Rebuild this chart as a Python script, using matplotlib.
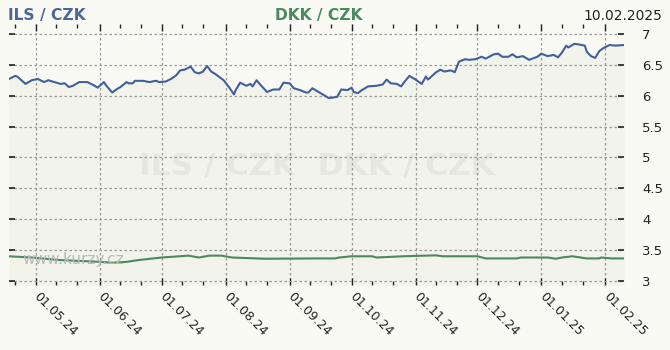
import matplotlib
matplotlib.use("Agg")
import matplotlib.pyplot as plt
import matplotlib.dates as mdates
from matplotlib import font_manager
from matplotlib.ticker import MultipleLocator
import pandas as pd

# ILS / CZK
ils_dates = [
    "2024-04-18", "2024-04-21", "2024-04-22", "2024-04-26", "2024-04-29", "2024-05-02",
    "2024-05-05", "2024-05-07", "2024-05-10", "2024-05-13", "2024-05-15", "2024-05-17",
    "2024-05-19", "2024-05-22", "2024-05-26", "2024-05-29", "2024-05-31", "2024-06-03",
    "2024-06-04", "2024-06-07", "2024-06-09", "2024-06-11", "2024-06-14", "2024-06-15",
    "2024-06-17", "2024-06-18", "2024-06-22", "2024-06-25", "2024-06-28", "2024-06-30",
    "2024-07-03", "2024-07-06", "2024-07-08", "2024-07-10", "2024-07-12", "2024-07-15",
    "2024-07-17", "2024-07-19", "2024-07-21", "2024-07-23", "2024-07-25", "2024-07-27",
    "2024-07-31", "2024-08-03", "2024-08-05", "2024-08-06", "2024-08-08", "2024-08-11",
    "2024-08-13", "2024-08-14", "2024-08-16", "2024-08-18", "2024-08-21", "2024-08-24",
    "2024-08-27", "2024-08-29", "2024-09-01", "2024-09-03", "2024-09-06", "2024-09-09",
    "2024-09-10", "2024-09-12", "2024-09-15", "2024-09-18", "2024-09-20", "2024-09-24",
    "2024-09-26", "2024-09-29", "2024-10-01", "2024-10-02", "2024-10-04", "2024-10-06",
    "2024-10-09", "2024-10-13", "2024-10-16", "2024-10-18", "2024-10-20", "2024-10-23",
    "2024-10-25", "2024-10-27", "2024-10-29", "2024-11-01", "2024-11-04", "2024-11-06",
    "2024-11-07", "2024-11-11", "2024-11-13", "2024-11-15", "2024-11-18", "2024-11-20",
    "2024-11-22", "2024-11-25", "2024-11-27", "2024-11-30", "2024-12-03", "2024-12-05",
    "2024-12-09", "2024-12-11", "2024-12-13", "2024-12-16", "2024-12-18", "2024-12-20",
    "2024-12-23", "2024-12-26", "2024-12-30", "2025-01-01", "2025-01-04", "2025-01-07",
    "2025-01-09", "2025-01-11", "2025-01-13", "2025-01-14", "2025-01-17", "2025-01-19",
    "2025-01-22", "2025-01-23", "2025-01-25", "2025-01-27", "2025-01-29", "2025-01-31",
    "2025-02-03", "2025-02-06", "2025-02-10",
]
ils_values = [
    6.27, 6.32, 6.31, 6.19, 6.25, 6.27,
    6.22, 6.25, 6.22, 6.19, 6.20, 6.14,
    6.16, 6.22, 6.22, 6.17, 6.13, 6.22,
    6.17, 6.05, 6.10, 6.14, 6.22, 6.20,
    6.20, 6.24, 6.24, 6.22, 6.24, 6.22,
    6.23, 6.28, 6.33, 6.41, 6.42, 6.47,
    6.38, 6.36, 6.39, 6.48, 6.39, 6.35,
    6.25, 6.12, 6.02, 6.10, 6.21, 6.16,
    6.19, 6.15, 6.25, 6.17, 6.06, 6.10,
    6.10, 6.21, 6.20, 6.12, 6.09, 6.05,
    6.05, 6.12, 6.06, 6.00, 5.96, 5.98,
    6.10, 6.09, 6.13, 6.06, 6.04, 6.09,
    6.15, 6.16, 6.18, 6.26, 6.20, 6.19,
    6.15, 6.24, 6.32, 6.26, 6.19, 6.31,
    6.26, 6.38, 6.42, 6.39, 6.41, 6.38,
    6.55, 6.59, 6.58, 6.59, 6.63, 6.60,
    6.67, 6.68, 6.63, 6.63, 6.67, 6.62,
    6.64, 6.58, 6.63, 6.68, 6.64, 6.66,
    6.62, 6.70, 6.81, 6.78, 6.84, 6.83,
    6.81, 6.71, 6.64, 6.61, 6.72, 6.77,
    6.82, 6.81, 6.82,
]

# DKK / CZK
dkk_dates = [
    "2024-04-18", "2024-04-29", "2024-05-12", "2024-06-01", "2024-06-07", "2024-06-14",
    "2024-06-20", "2024-07-01", "2024-07-14", "2024-07-19", "2024-07-24", "2024-07-30",
    "2024-08-04", "2024-08-20", "2024-09-14", "2024-09-23", "2024-09-25", "2024-10-01",
    "2024-10-11", "2024-10-13", "2024-10-26", "2024-11-11", "2024-11-14", "2024-12-01",
    "2024-12-05", "2024-12-20", "2024-12-22", "2025-01-04", "2025-01-08", "2025-01-11",
    "2025-01-16", "2025-01-23", "2025-01-29", "2025-01-30", "2025-02-04", "2025-02-10",
]
dkk_values = [
    3.40, 3.38, 3.34, 3.31, 3.295, 3.31,
    3.34, 3.38, 3.41, 3.38, 3.41, 3.41,
    3.38, 3.36, 3.365, 3.365, 3.38, 3.40,
    3.40, 3.38, 3.40, 3.415, 3.40, 3.40,
    3.365, 3.365, 3.38, 3.38, 3.36, 3.38,
    3.40, 3.365, 3.365, 3.38, 3.365, 3.365,
]

y_ticks = [3, 3.5, 4, 4.5, 5, 5.5, 6, 6.5, 7]
x_range = ["2024-04-18", "2025-02-10"]

bg = "#fafaf5"
fill = "#f2f3ea"
ils_color = "#41609a"
dkk_color = "#4a8a5e"

# narrow bold font for the headers if there is one
installed = {f.name for f in font_manager.fontManager.ttflist}
if "Liberation Sans Narrow" in installed:
    title_font, head_size, mark_size = "Liberation Sans Narrow", 14, 30
elif "DejaVu Sans Condensed" in installed:
    title_font, head_size, mark_size = "DejaVu Sans Condensed", 12.5, 27
else:
    title_font, head_size, mark_size = "DejaVu Sans", 11.2, 22.5

ils_x = pd.to_datetime(ils_dates)
dkk_x = pd.to_datetime(dkk_dates)

fig = plt.figure(figsize=(6.7, 3.5), dpi=100, facecolor=bg)
ax = fig.add_axes([9 / 670, 65 / 350, 615 / 670, 261 / 350])
ax.set_facecolor(bg)
y_bottom, y_top = 2.935, 7.16

ax.fill_between(ils_x, ils_values, y_bottom, color=fill, lw=0, zorder=1)
ax.plot(ils_x, ils_values, color=ils_color, lw=1.5, zorder=3)
ax.plot(dkk_x, dkk_values, color=dkk_color, lw=1.5, zorder=3)

ax.set_xlim(pd.to_datetime(x_range[0]), pd.to_datetime(x_range[1]))
ax.set_ylim(y_bottom, y_top)

for s in ax.spines.values():
    s.set_visible(False)

ax.set_yticks(y_ticks)
ax.set_yticklabels([f"{v:g}" for v in y_ticks])
ax.yaxis.set_minor_locator(MultipleLocator(10))
ax.tick_params(axis="y", which="major", left=True, right=True, labelleft=False,
               labelright=True, direction="in", length=4, width=1.2, pad=13,
               labelsize=9.5, colors="#222222")

ax.xaxis.set_major_locator(mdates.MonthLocator())
ax.xaxis.set_minor_locator(mdates.MonthLocator(bymonthday=[11, 21]))
ax.xaxis.set_major_formatter(mdates.DateFormatter("%d.%m.%y"))
ax.tick_params(axis="x", which="major", bottom=True, top=True, direction="in",
               length=5, width=1, pad=7, labelsize=9, colors="#222222")
ax.tick_params(axis="x", which="minor", bottom=True, top=True, direction="in",
               length=3, width=1, colors="#222222")
for lab in ax.get_xticklabels():
    lab.set_rotation(-45)
    lab.set_ha("left")
    lab.set_va("center")
    lab.set_rotation_mode("anchor")

ax.grid(True, which="major", color="#9a9a9a", linestyle=(0, (2, 2)), linewidth=0.9)

# watermark and source
ax.text(0.5, 0.455, "ILS / CZK  DKK / CZK", transform=ax.transAxes, ha="center",
        va="center", fontsize=mark_size, fontweight="bold", family=title_font,
        color="#e6e7df", zorder=1.2)
fig.text(22 / 670, 1 - 264 / 350, "www.kurzy.cz", fontsize=11, color="#b9b9b9",
         ha="left", va="baseline", zorder=5)

# header
fig.text(8 / 670, 1 - 20 / 350, "ILS / CZK", fontsize=head_size, fontweight="bold",
         family=title_font, color="#4a6896", ha="left", va="baseline")
fig.text(275 / 670, 1 - 20 / 350, "DKK / CZK", fontsize=head_size, fontweight="bold",
         family=title_font, color="#4b8a5f", ha="left", va="baseline")
fig.text(662 / 670, 1 - 20 / 350, "10.02.2025", fontsize=10, color="#222222",
         ha="right", va="baseline")

fig.savefig("out.png", dpi=100, facecolor=bg)
